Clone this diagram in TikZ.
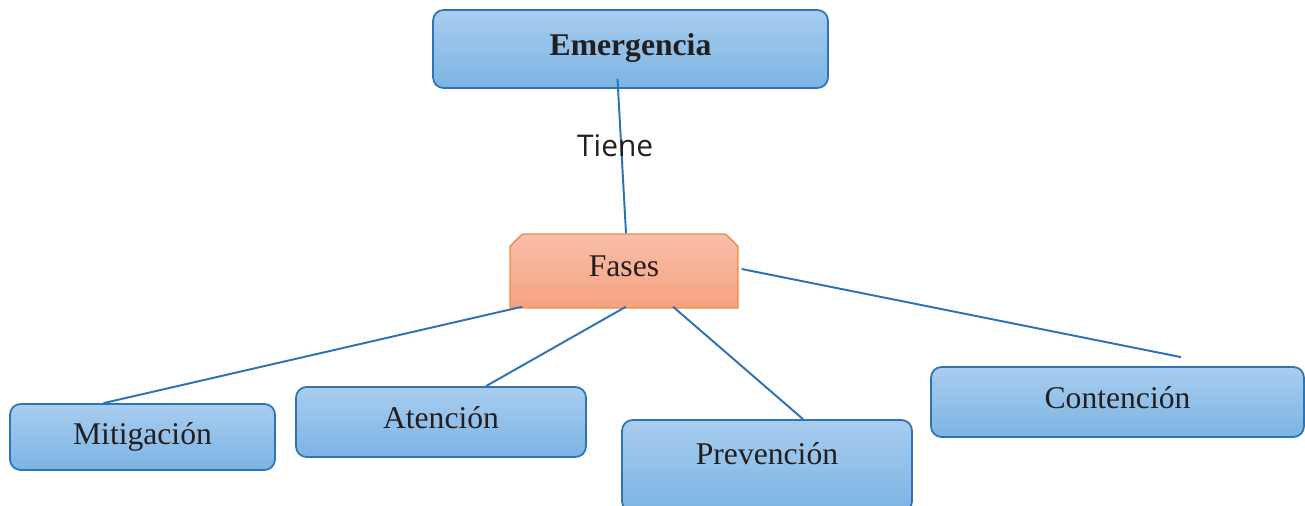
\documentclass[tikz,border=0pt]{standalone}
\usepackage{fontspec}
\setmainfont{Liberation Serif}
\newfontfamily\tienefont{Open Sans}
\usetikzlibrary{calc,shapes.misc}

\definecolor{boxtop}{HTML}{A9CDEF}
\definecolor{boxbot}{HTML}{7BB4E3}
\definecolor{boxline}{HTML}{2E74B5}
\definecolor{fasetop}{HTML}{F9BFAA}
\definecolor{fasebot}{HTML}{F5A17F}
\definecolor{faseline}{HTML}{F08A45}
\definecolor{linkblue}{HTML}{2A71B8}
\definecolor{txt}{HTML}{231F20}

\tikzset{
    fasebox/.style={draw=boxline, line width=1pt, rounded corners=6pt,
        top color=boxtop, bottom color=boxbot, text=txt,
        font=\fontsize{18}{20}\selectfont, text height=12pt, text depth=5pt},
    fasecut/.style={chamfered rectangle, chamfered rectangle corners={north west,north east},
        chamfered rectangle xsep=4pt, draw=faseline, line width=0.8pt,
        top color=fasetop, bottom color=fasebot, text=txt,
        font=\fontsize{18}{20}\selectfont, text height=12pt, text depth=6pt},
    link/.style={draw=linkblue, line width=1.1pt}
}

\begin{document}
\begin{tikzpicture}[x=0.02cm, y=-0.02cm]
    \clip (0,0) rectangle (1305,506);
    \node[fasebox, minimum width=7.9cm, minimum height=1.56cm] at (630.5,49) (emerg) {\textbf{Emergencia}};
    \node[fasecut, minimum width=4.56cm, minimum height=1.48cm] at (624,271) (fases) {Fases};
    \node[fasebox, minimum width=5.3cm, minimum height=1.32cm, text depth=3pt] at (142.5,437) (mitig) {Mitigación};
    \node[fasebox, minimum width=5.8cm, minimum height=1.4cm] at (441,422) (aten) {Atención};
    \node[fasebox, minimum width=5.8cm, minimum height=1.84cm, text depth=14pt] at (767,466) (prev) {Prevención};
    \node[fasebox, minimum width=7.46cm, minimum height=1.4cm] at (1117.5,402) (cont) {Contención};

    \draw[link] ($(emerg.south)+(-13,-10)$) -- ($(fases.north)+(2,0)$)
        node [pos=0.43, xshift=-0.12cm, text=txt, font=\tienefont\fontsize{17}{19}\selectfont] (tiene) {Tiene};
    \draw[link] ($(fases.south west)+(13,-2)$) -- ($(mitig.north)+(-39,0)$);
    \draw[link] ($(fases.south)+(2,-2)$) -- ($(aten.north)+(45,0)$);
    \draw[link] ($(fases.south)+(49,-2)$) -- ($(prev.north)+(36,0)$);
    \draw[link] ($(fases.east)+(3,-2)$) -- ($(cont.north)+(63.5,-9)$);
\end{tikzpicture}
\end{document}
